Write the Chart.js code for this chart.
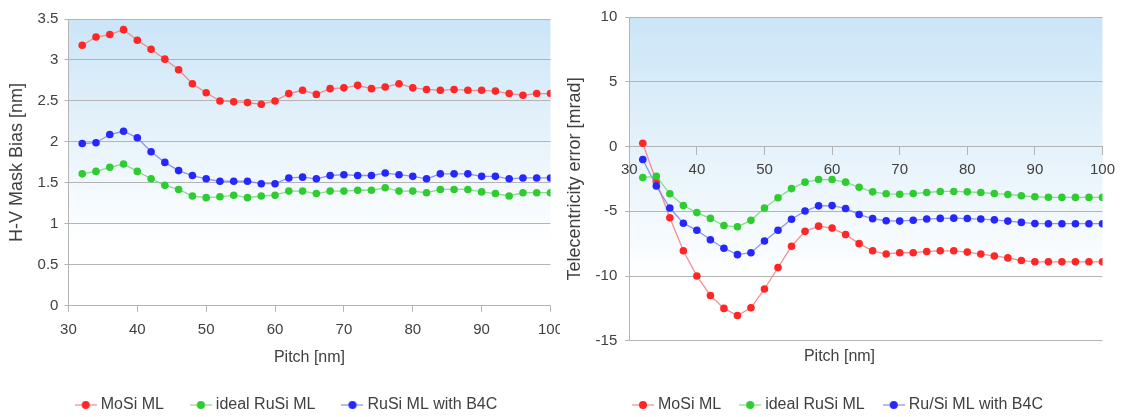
<!DOCTYPE html>
<html>
<head>
<meta charset="utf-8">
<script src="https://cdn.jsdelivr.net/npm/chart.js@4/dist/chart.umd.min.js"></script>
<style>
  html, body { margin: 0; padding: 0; background: #fff; }
  #wrap { position: relative; width: 1121px; height: 417px; }
  #leftBox { position: absolute; left: 0; top: 0; width: 560px; height: 417px; overflow: hidden; }
  #rightBox { position: absolute; left: 560px; top: 0; width: 561px; height: 417px; }
</style>
</head>
<body>
<div id="wrap">
  <div id="leftBox"><canvas id="biasChart" width="572" height="417"></canvas></div>
  <div id="rightBox"><canvas id="teleChart" width="561" height="417"></canvas></div>
</div>
<script>
// ======== Data ========
const pitch = [32, 34, 36, 38, 40, 42, 44, 46, 48, 50, 52, 54, 56, 58, 60, 62, 64, 66,
  68, 70, 72, 74, 76, 78, 80, 82, 84, 86, 88, 90, 92, 94, 96, 98, 100];

// H-V mask bias [nm]
const biasMoSi = [3.18, 3.28, 3.31, 3.37, 3.24, 3.13, 3.01, 2.88, 2.71, 2.60, 2.50, 2.49, 2.48, 2.46, 2.50, 2.59, 2.63, 2.58,
  2.65, 2.66, 2.69, 2.65, 2.67, 2.71, 2.66, 2.64, 2.63, 2.64, 2.63, 2.63, 2.62, 2.59, 2.57, 2.59, 2.59];
const biasIdealRuSi = [1.61, 1.64, 1.69, 1.73, 1.64, 1.55, 1.47, 1.42, 1.34, 1.32, 1.33, 1.35, 1.32, 1.34, 1.35, 1.40, 1.40, 1.37,
  1.40, 1.40, 1.41, 1.41, 1.44, 1.40, 1.40, 1.38, 1.42, 1.42, 1.42, 1.39, 1.37, 1.34, 1.38, 1.38, 1.38];
const biasRuSiB4C = [1.98, 1.99, 2.09, 2.13, 2.05, 1.88, 1.75, 1.65, 1.59, 1.55, 1.52, 1.52, 1.52, 1.49, 1.49, 1.56, 1.57, 1.55,
  1.59, 1.60, 1.59, 1.59, 1.62, 1.60, 1.58, 1.55, 1.61, 1.61, 1.61, 1.58, 1.58, 1.55, 1.56, 1.56, 1.56];

// Telecentricity error [mrad]
const teleMoSi = [0.25, -2.7, -5.5, -8.05, -10.0, -11.5, -12.5, -13.05, -12.45, -11.0, -9.35, -7.7, -6.55, -6.15, -6.3, -6.8, -7.5, -8.05,
  -8.3, -8.2, -8.2, -8.1, -8.05, -8.05, -8.15, -8.3, -8.45, -8.6, -8.8, -8.9, -8.9, -8.9, -8.9, -8.9, -8.9];
const teleIdealRuSi = [-2.4, -2.3, -3.65, -4.55, -5.1, -5.55, -6.1, -6.2, -5.7, -4.75, -3.95, -3.25, -2.75, -2.55, -2.55, -2.75, -3.15, -3.5,
  -3.65, -3.68, -3.63, -3.55, -3.47, -3.47, -3.5, -3.55, -3.63, -3.7, -3.8, -3.88, -3.92, -3.93, -3.93, -3.93, -3.93];
const teleRuSiB4C = [-1.0, -3.05, -4.75, -5.92, -6.47, -7.2, -7.85, -8.35, -8.2, -7.3, -6.46, -5.62, -4.98, -4.58, -4.56, -4.78, -5.25, -5.57,
  -5.73, -5.76, -5.69, -5.6, -5.55, -5.53, -5.56, -5.6, -5.66, -5.76, -5.86, -5.95, -5.96, -5.96, -5.96, -5.96, -5.96];

const leftLabels = ['MoSi ML', 'ideal RuSi ML', 'RuSi ML with B4C'];
const rightLabels = ['MoSi ML', 'ideal RuSi ML', 'Ru/Si ML with B4C'];

// ======== Styles ========
const FONT = "'Liberation Sans', Arial, sans-serif";
const TEXT = '#404040';
const GRID = '#b4b4b4';
const colors = [
  { point: '#ff2626', line: 'rgba(240,110,110,0.75)' },
  { point: '#2ecc2e', line: 'rgba(110,215,110,0.8)' },
  { point: '#2626ff', line: 'rgba(120,120,245,0.8)' }
];

// ======== Helpers ========
function legendMarker(color, lineColor) {
  const c = document.createElement('canvas');
  c.width = 22; c.height = 10;
  const g = c.getContext('2d');
  g.strokeStyle = lineColor; g.lineWidth = 1.3;
  g.beginPath(); g.moveTo(0, 5); g.lineTo(22, 5); g.stroke();
  g.fillStyle = color;
  g.beginPath(); g.arc(11, 5, 4, 0, Math.PI * 2); g.fill();
  return c;
}

function makeDatasets(labels, series, order) {
  return series.map((values, i) => ({
    label: labels[i],
    data: pitch.map((p, k) => ({ x: p, y: values[k] })),
    borderColor: colors[i].line,
    backgroundColor: colors[i].point,
    pointBackgroundColor: colors[i].point,
    pointBorderColor: colors[i].point,
    pointRadius: 3.8,
    pointBorderWidth: 0,
    borderWidth: 1.3,
    tension: 0,
    order: order[i]
  }));
}

const plotBackground = {
  id: 'plotBackground',
  beforeDraw(chart, args, opts) {
    const { ctx, chartArea: a } = chart;
    const g = ctx.createLinearGradient(0, a.top, 0, a.bottom);
    g.addColorStop(0, '#cbe5f7');
    g.addColorStop(opts.stop || 0.8, '#ffffff');
    g.addColorStop(1, '#ffffff');
    ctx.save();
    ctx.fillStyle = g;
    ctx.fillRect(a.left, a.top, a.width, a.height);
    ctx.restore();
  }
};

function legendOptions(gap) {
  return {
    position: 'bottom',
    weight: 3000,
    labels: {
      usePointStyle: true,
      pointStyleWidth: 14,
      padding: gap,
      color: TEXT,
      font: { family: FONT, size: 16 },
      sort: (a, b) => a.datasetIndex - b.datasetIndex,
      generateLabels(chart) {
        const items = Chart.defaults.plugins.legend.labels.generateLabels(chart);
        items.forEach(it => {
          const c = colors[it.datasetIndex];
          it.pointStyle = legendMarker(c.point, c.line);
        });
        return items;
      }
    }
  };
}

// ======== Left chart: H-V mask bias ========
new Chart(document.getElementById('biasChart'), {
  type: 'line',
  data: { datasets: makeDatasets(leftLabels, [biasMoSi, biasIdealRuSi, biasRuSiB4C], [2, 1, 0]) },
  plugins: [plotBackground],
  options: {
    responsive: false,
    animation: false,
    layout: { padding: { top: 19, right: 2, left: 6, bottom: -6 } },
    scales: {
      x: {
        type: 'linear', min: 30, max: 100,
        ticks: { stepSize: 10, color: TEXT, font: { family: FONT, size: 15 }, padding: 9, maxRotation: 0 },
        grid: { drawOnChartArea: false, drawTicks: true, tickLength: 6, color: GRID },
        border: { color: GRID },
        title: { display: true, text: 'Pitch [nm]', color: TEXT, font: { family: FONT, size: 16 }, padding: { top: 0, bottom: 0 } }
      },
      y: {
        min: 0, max: 3.5,
        ticks: { stepSize: 0.5, color: TEXT, font: { family: FONT, size: 15 }, padding: 6, callback: v => String(v) },
        grid: { color: GRID, tickLength: 4 },
        border: { color: GRID },
        title: { display: true, text: 'H-V Mask Bias [nm]', color: TEXT, font: { family: FONT, size: 18 }, padding: { top: 0, bottom: 4 } }
      }
    },
    plugins: {
      plotBackground: { stop: 0.78 },
      legend: legendOptions(30),
      tooltip: { enabled: false }
    }
  }
});

// ======== Right chart: telecentricity error ========
new Chart(document.getElementById('teleChart'), {
  type: 'line',
  data: { datasets: makeDatasets(rightLabels, [teleMoSi, teleIdealRuSi, teleRuSiB4C], [2, 0, 1]) },
  plugins: [plotBackground],
  options: {
    responsive: false,
    animation: false,
    layout: { padding: { top: 6, right: 6, left: 4, bottom: -6 } },
    scales: {
      x: {
        type: 'linear', min: 30, max: 100,
        position: { y: 0 },
        ticks: { stepSize: 10, color: TEXT, font: { family: FONT, size: 15 }, padding: 6, maxRotation: 0 },
        grid: { drawOnChartArea: false, drawTicks: true, tickLength: 8, color: GRID },
        border: { color: GRID }
      },
      y: {
        min: -15, max: 10,
        ticks: { stepSize: 5, color: TEXT, font: { family: FONT, size: 15 }, padding: 8, callback: v => String(v) },
        grid: { color: GRID, tickLength: 4 },
        border: { color: GRID },
        title: { display: true, text: 'Telecentricity error [mrad]', color: TEXT, font: { family: FONT, size: 18 }, padding: { top: 0, bottom: 2 } }
      }
    },
    plugins: {
      plotBackground: { stop: 0.82 },
      title: {
        display: true, position: 'bottom', text: 'Pitch [nm]', color: TEXT,
        font: { family: FONT, size: 16, weight: 'normal' }, padding: { top: 6, bottom: 9 }
      },
      legend: legendOptions(22),
      tooltip: { enabled: false }
    }
  }
});
</script>
</body>
</html>
